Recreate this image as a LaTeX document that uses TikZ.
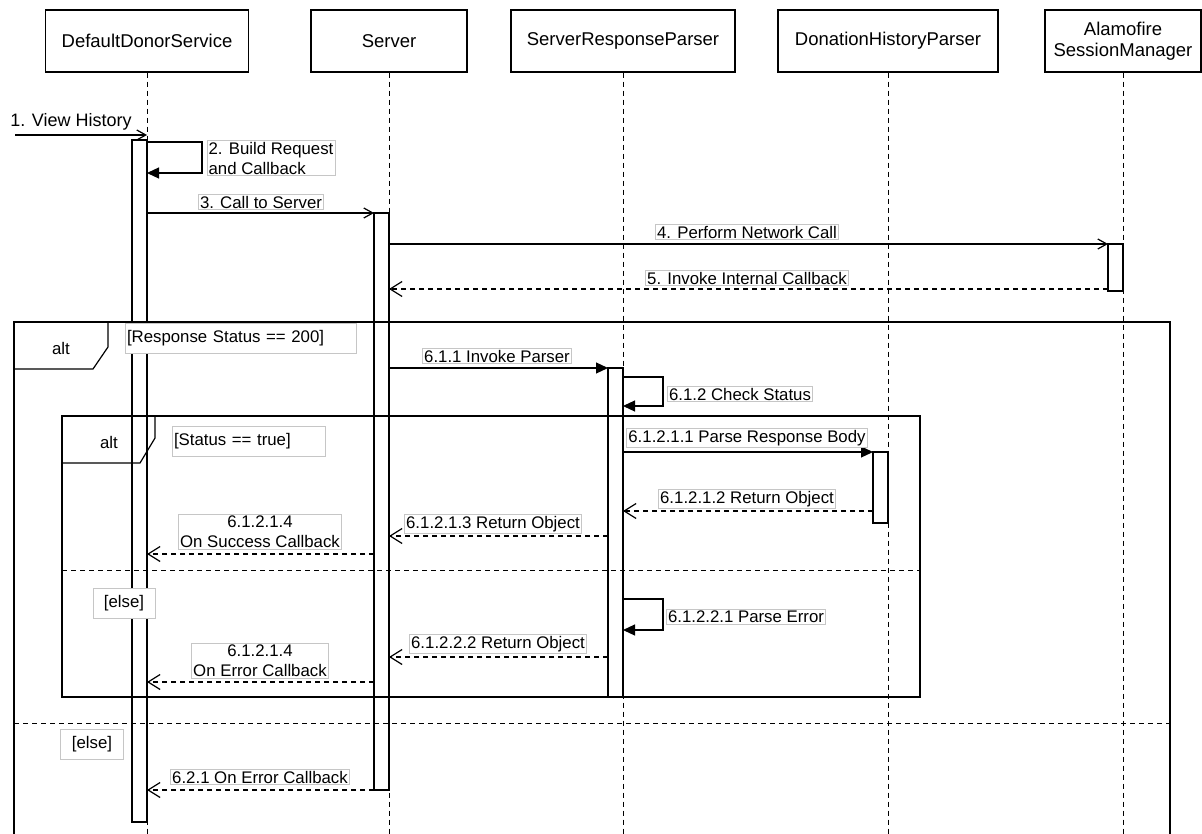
\documentclass[tikz,border=0pt]{standalone}
\usepackage{fontspec}
\setmainfont{Liberation Sans}
\usetikzlibrary{arrows.meta,positioning}

\begin{document}
\begin{tikzpicture}[
		x=1pt, y=-1pt,
		line width=1.2pt,
		head node/.style={draw,rectangle,minimum height=62pt,inner sep=2pt,align=center,font=\fontsize{18.5}{20.5}\selectfont},
		bar node/.style={draw,rectangle,fill=white,minimum width=15pt,inner sep=0pt,outer sep=0pt,anchor=north east},
		life line/.style={dash pattern=on 5pt off 4pt,line width=1pt},
		label node/.style={draw=gray!45,line width=0.8pt,fill=white,inner sep=1.5pt,font=\fontsize{16.8}{20}\selectfont},
		guard node/.style={label node,minimum height=30pt,align=left},
		tag node/.style={inner sep=0pt,font=\fontsize{16.8}{20}\selectfont},
		sync/.style={-{Triangle[length=12pt,width=11pt]}},
		call/.style={-{Straight Barb[length=9pt,width=10pt]}},
		reply/.style={dash pattern=on 5pt off 4pt,-{Straight Barb[length=12pt,width=15pt]}}]

	\useasboundingbox (0,0) rectangle (1202,834);

	% participants
	\node[head node,minimum width=203pt] (dds) at (147,41) {DefaultDonorService};
	\node[head node,minimum width=156pt] (srv) at (389,41) {Server};
	\node[head node,minimum width=224pt] (srp) at (623,41) {ServerResponseParser};
	\node[head node,minimum width=220pt] (dhp) at (888,41) {DonationHistoryParser};
	\node[head node,minimum width=156pt] (alm) at (1123,41) {Alamofire\\SessionManager};

	\coordinate (bottom) at (0,834);
	\foreach \p in {dds,srv,srp,dhp,alm}
		\draw[life line] (\p.south) -- (\p.south |- bottom);

	% activations
	\node[bar node,minimum height=682pt] (aDDS) at (147,140) {};
	\node[bar node,minimum height=577pt] (aSrv) at (389,213) {};
	\node[bar node,minimum height=47pt] (aAlm) at (1123,244) {};
	\node[bar node,minimum height=329pt] (aSrp) at (623,368) {};
	\node[bar node,minimum height=71pt] (aDhp) at (888,452) {};

	% alt frames
	\draw (14,834) -- (14,322) -- (1170,322) -- (1170,834);
	\draw (14,369) -- (93,369) -- (108,347) -- (108,322);
	\node[tag node] (altA) at (61,348) {alt};
	\draw[life line] (14,723) -- (1170,723);

	\draw (62,416) rectangle (920,697);
	\draw (62,463) -- (140,463) -- (155,438) -- (155,416);
	\node[tag node] (altB) at (109,442) {alt};
	\draw[life line] (62,570) -- (920,570);

	% message rows
	\foreach \r/\ypos in {r1/135,r2a/142,r2b/173,r3/213,r4/244,r5/289,
			r611/368,r612a/377,r612b/406,r61211/452,r61212/511,r61213/536,
			r61214/554,r61221a/599,r61221b/630,r61222/657,r61224/682,r621/790}
		\coordinate (\r) at (0,\ypos);
	\coordinate (in) at (15,135);

	\draw[call] (in) -- (in -| aDDS.east);
	\draw[sync] (aDDS.east |- r2a) -- ++(55,0) |- (aDDS.east |- r2b);
	\draw[call] (aDDS.east |- r3) -- (aSrv.west |- r3);
	\draw[call] (aSrv.east |- r4) -- (aAlm.west |- r4);
	\draw[reply] (aAlm.west |- r5) -- (aSrv.east |- r5);
	\draw[sync] (aSrv.east |- r611) -- (aSrp.west |- r611);
	\draw[sync] (aSrp.east |- r612a) -- ++(40,0) |- (aSrp.east |- r612b);
	\draw[sync] (aSrp.east |- r61211) -- (aDhp.west |- r61211);
	\draw[reply] (aDhp.west |- r61212) -- (aSrp.east |- r61212);
	\draw[reply] (aSrp.west |- r61213) -- (aSrv.east |- r61213);
	\draw[reply] (aSrv.west |- r61214) -- (aDDS.east |- r61214);
	\draw[sync] (aSrp.east |- r61221a) -- ++(40,0) |- (aSrp.east |- r61221b);
	\draw[reply] (aSrp.west |- r61222) -- (aSrv.east |- r61222);
	\draw[reply] (aSrv.west |- r61224) -- (aDDS.east |- r61224);
	\draw[reply] (aSrv.west |- r621) -- (aDDS.east |- r621);

	% labels
	\node[tag node,font=\fontsize{18}{20}\selectfont] (l1) at (71,122) {1. View History};
	\node[label node,align=left] (l2) at (271,158) {2. Build Request\\and Callback};
	\node[label node] (l3) at (261,202) {3. Call to Server};
	\node[label node] (l4) at (747,232) {4. Perform Network Call};
	\node[label node] (l5) at (747,278) {5. Invoke Internal Callback};
	\node[guard node,text width=228pt] (g1) at (241,338) {[Response Status == 200]};
	\node[label node] (l611) at (497,356) {6.1.1 Invoke Parser};
	\node[label node] (l612) at (740,394) {6.1.2 Check Status};
	\node[guard node,text width=150pt] (g2) at (249,441) {[Status == true]};
	\node[label node] (l61211) at (747,438) {6.1.2.1.1 Parse Response Body};
	\node[label node] (l61212) at (747,499) {6.1.2.1.2 Return Object};
	\node[label node] (l61213) at (493,524) {6.1.2.1.3 Return Object};
	\node[label node,align=center] (l61214) at (260,532) {6.1.2.1.4\\On Success Callback};
	\node[guard node,minimum width=62pt,align=center] (g3) at (124,603) {[else]};
	\node[label node] (l61221) at (746,617) {6.1.2.2.1 Parse Error};
	\node[label node] (l61222) at (498,644) {6.1.2.2.2 Return Object};
	\node[label node,align=center] (l61224) at (260,661) {6.1.2.1.4\\On Error Callback};
	\node[guard node,minimum width=63pt,align=center] (g4) at (92,744) {[else]};
	\node[label node] (l621) at (260,777) {6.2.1 On Error Callback};
\end{tikzpicture}
\end{document}
